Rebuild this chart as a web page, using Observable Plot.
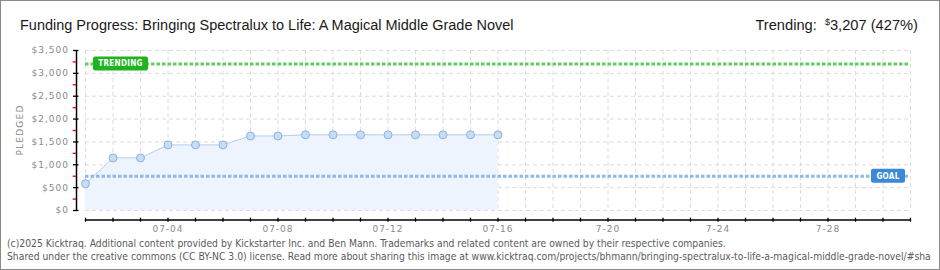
<!DOCTYPE html>
<html><head><meta charset="utf-8">
<script src="https://cdn.jsdelivr.net/npm/d3@7"></script>
<script src="https://cdn.jsdelivr.net/npm/@observablehq/plot@0.6"></script>
<style>
body{margin:0;background:#fff;}
#wrap{position:relative;width:940px;height:270px;overflow:hidden;background:#fff;}
#border{position:absolute;left:0;top:0;width:940px;height:270px;box-sizing:border-box;border:1px solid #8a8a8a;pointer-events:none;z-index:5;}
#title{position:absolute;left:20px;top:16.5px;font-family:"Liberation Sans Narrow","Liberation Sans",sans-serif;font-size:16px;line-height:16px;color:#1a1a1a;white-space:nowrap;}
#trend{position:absolute;right:22px;top:14px;font-family:"Liberation Sans Narrow","Liberation Sans",sans-serif;font-size:16px;line-height:16px;color:#1a1a1a;white-space:nowrap;}
#trend .cur{font-size:9px;vertical-align:5px;margin-left:4px;}
#ylab{position:absolute;left:20px;top:130px;transform:translate(-50%,-50%) rotate(-90deg);font-family:"DejaVu Sans",sans-serif;font-size:9px;letter-spacing:1.2px;color:#8a8a8a;white-space:nowrap;}
#chart{position:absolute;left:0;top:36px;}
#chart svg{font-family:"DejaVu Sans",sans-serif;letter-spacing:1px;}
.foot{position:absolute;left:7px;font-family:"DejaVu Sans Condensed","DejaVu Sans",sans-serif;font-size:9px;line-height:9px;color:#5a5a5a;white-space:nowrap;}
#f1{top:239px;}
#f2{top:252px;}
</style></head>
<body><div id="wrap">
<div id="title">Funding Progress: Bringing Spectralux to Life: A Magical Middle Grade Novel</div>
<div id="trend">Trending: <span class="cur">$</span>3,207 (427%)</div>
<div id="ylab">PLEDGED</div>
<div id="chart"></div>
<div class="foot" id="f1">(c)2025 Kicktraq. Additional content provided by Kickstarter Inc. and Ben Mann. Trademarks and related content are owned by their respective companies.</div>
<div class="foot" id="f2">Shared under the creative commons (CC BY-NC 3.0) license. Read more about sharing this image at www.kicktraq.com/projects/bhmann/bringing-spectralux-to-life-a-magical-middle-grade-novel/#sha</div>
<div id="border"></div>
</div>
<script>
// ---- data ----
const dates = ["2025-07-01","2025-07-02","2025-07-03","2025-07-04","2025-07-05","2025-07-06","2025-07-07","2025-07-08",
               "2025-07-09","2025-07-10","2025-07-11","2025-07-12","2025-07-13","2025-07-14","2025-07-15","2025-07-16"];
const pledged = [585, 1150, 1150, 1435, 1435, 1435, 1630, 1630, 1655, 1655, 1655, 1655, 1655, 1655, 1655, 1655];
const goal = 750;
const trending = 3207;
const xStart = "2025-07-01";
const xEnd = "2025-07-31";
const yTicks = [0, 500, 1000, 1500, 2000, 2500, 3000, 3500];
const yMinorTicks = [250, 750, 1250, 1750, 2250, 2750, 3250];
const xLabelDates = ["2025-07-04","2025-07-08","2025-07-12","2025-07-16","2025-07-20","2025-07-24","2025-07-28"];
const xLabels = ["07-04","07-08","07-12","07-16","7-20","7-24","7-28"];

// ---- build ----
const parse = d3.utcParse("%Y-%m-%d");
const data = dates.map((d, i) => ({date: parse(d), value: pledged[i]}));
const x0 = parse(xStart), x1 = parse(xEnd);
const allDays = d3.utcDay.range(x0, d3.utcDay.offset(x1, 1));
const labelMap = new Map(xLabelDates.map((d, i) => [d, xLabels[i]]));
const fmtIso = d3.utcFormat("%Y-%m-%d");
const money = d => "$" + d3.format(",")(d);

const chart = Plot.plot({
  width: 940, height: 200,
  marginTop: 14, marginBottom: 26, marginLeft: 85, marginRight: 30,
  x: {type: "utc", domain: [x0, x1], label: null},
  y: {domain: [0, 3500], label: null},
  marks: [
    Plot.gridX(allDays, {stroke: "#dcdcdc", strokeOpacity: 1, strokeDasharray: "4,3"}),
    Plot.gridY(yTicks, {stroke: "#dcdcdc", strokeOpacity: 1, strokeDasharray: "4,3"}),
    Plot.areaY(data, {x: "date", y: "value", fill: "#edf4fd"}),
    Plot.lineY(data, {x: "date", y: "value", stroke: "#b3d2f2", strokeWidth: 1}),
    Plot.ruleY([trending], {x1: x0, x2: x1, stroke: "#5ccf5c", strokeWidth: 3, strokeDasharray: "3.5,2"}),
    Plot.ruleY([goal], {x1: x0, x2: x1, stroke: "#8bb9ea", strokeWidth: 3, strokeDasharray: "3.5,2"}),
    Plot.dot(data, {x: "date", y: "value", r: 4, fill: "#c5ddf7", stroke: "#8fb1da", strokeWidth: 1}),
    Plot.ruleX([x0], {y1: 0, y2: 3500, dx: -9, stroke: "#000", strokeWidth: 1.5}),
    Plot.axisY(yMinorTicks, {tickSize: 3.3, dx: -9, stroke: "#e00000", strokeWidth: 1.3, fill: "none", label: null, tickFormat: () => ""}),
    Plot.axisY(yTicks, {tickSize: 5.5, dx: -6.5, tickPadding: 4.5, stroke: "#000", strokeWidth: 1.3, fill: "#8a8a8a",
      fontSize: 9, label: null, tickFormat: money}),
    Plot.ruleY([0], {x1: x0, x2: x1, dy: 9.5, stroke: "#000", strokeWidth: 1.5}),
    Plot.axisX(allDays, {tickSize: 4, dy: 7.7, tickPadding: 3, stroke: "#000", strokeWidth: 1.3, fill: "#8a8a8a",
      fontSize: 9, label: null, tickFormat: d => labelMap.get(fmtIso(d)) ?? ""})
  ]
});
document.getElementById("chart").appendChild(chart);

// labels positioned with the chart's own scales
const sx = chart.scale("x"), sy = chart.scale("y");
const svg = d3.select(chart);
function badge(left, cy, w, fill, label) {
  const g = svg.append("g");
  g.append("rect").attr("x", left).attr("y", cy - 7).attr("width", w).attr("height", 14)
    .attr("rx", 2).attr("fill", fill);
  g.append("text").attr("x", left + w / 2).attr("y", cy).attr("dy", "0.36em")
    .attr("text-anchor", "middle").attr("fill", "#fff").attr("font-size", 8).attr("font-weight", "bold")
    .attr("font-family", "DejaVu Sans Condensed, DejaVu Sans, sans-serif")
    .attr("letter-spacing", "0.3px").text(label);
}
badge(sx.apply(x0) + 8, sy.apply(trending), 55, "#1fb41f", "TRENDING");
badge(sx.apply(x1) - 5 - 34, sy.apply(goal), 34, "#3b88d6", "GOAL");

// fit header / footer text widths to the reference
function fitWidth(el, target) {
  const w = el.getBoundingClientRect().width;
  const fs = parseFloat(getComputedStyle(el).fontSize);
  el.style.fontSize = (fs * target / w) + "px";
}
fitWidth(document.getElementById("title"), 494);
fitWidth(document.getElementById("trend"), 162);
fitWidth(document.getElementById("f1"), 720);
document.getElementById("f2").style.fontSize = document.getElementById("f1").style.fontSize;
</script>
</body></html>
